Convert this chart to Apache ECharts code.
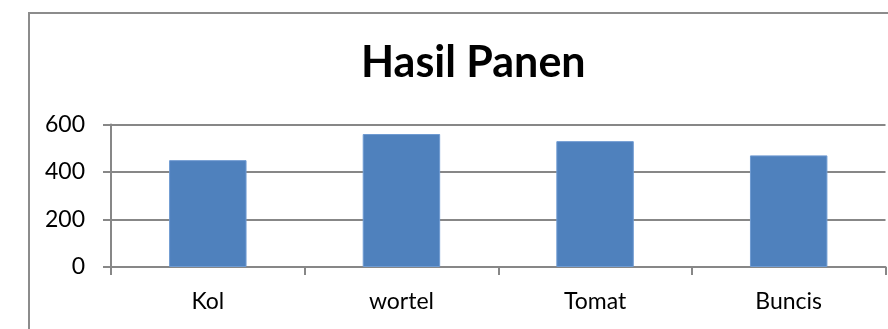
<!DOCTYPE html>
<html>
<head>
<meta charset="utf-8">
<script src="https://cdn.jsdelivr.net/npm/echarts@6/dist/echarts.min.js"></script>
<style>
  html, body { margin: 0; padding: 0; background: #fff; }
  #chart { width: 888px; height: 329px; }
</style>
</head>
<body>
<div id="chart"></div>
<script>
// Harvest totals per crop
const titleText = 'Hasil Panen';
const categories = ['Kol', 'wortel', 'Tomat', 'Buncis'];
const harvest = [450, 560, 530, 470];

const grey = '#878787';
const font = 'Lato, "Open Sans", sans-serif';

const chart = echarts.init(document.getElementById('chart'), null, { renderer: 'canvas' });
chart.setOption({
  animation: false,
  backgroundColor: '#ffffff',
  title: {
    text: titleText,
    left: 356,
    top: 37,
    textStyle: { fontFamily: font, fontWeight: 'bold', fontSize: 43, color: '#000' }
  },
  graphic: [{
    type: 'rect',
    shape: { x: 29, y: 13, width: 1000, height: 1000 },
    style: { fill: 'none', stroke: '#8c8c8c', lineWidth: 2 },
    silent: true
  }],
  grid: { left: 111, right: 2.5, top: 124.5, bottom: 62, containLabel: false },
  xAxis: {
    type: 'category',
    data: categories,
    axisLine: { show: true, lineStyle: { color: grey, width: 2 } },
    axisTick: { show: true, length: 8, alignWithLabel: false, lineStyle: { color: grey, width: 2 } },
    axisLabel: { margin: 23, fontFamily: font, fontSize: 23, color: '#000' }
  },
  yAxis: {
    type: 'value',
    min: 0,
    max: 600,
    interval: 200,
    axisLine: { show: true, lineStyle: { color: grey, width: 2 } },
    axisTick: { show: true, length: 8, lineStyle: { color: grey, width: 2 } },
    splitLine: { show: true, lineStyle: { color: grey, width: 2 } },
    axisLabel: { margin: 26, fontFamily: font, fontSize: 23, color: '#000' }
  },
  series: [{
    type: 'bar',
    data: harvest,
    barCategoryGap: '60%',
    itemStyle: { color: '#4f81bd', borderColor: '#6f9bd2', borderWidth: 1 }
  }]
});
</script>
</body>
</html>
